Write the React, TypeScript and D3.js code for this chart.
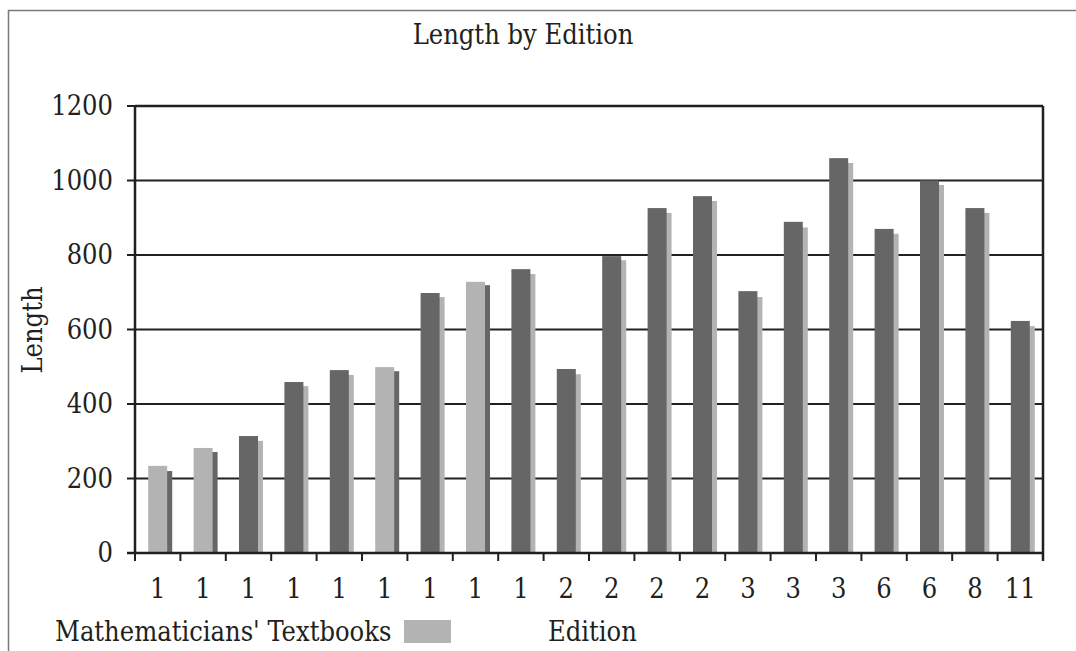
import React from "react";
import * as d3 from "d3";

const categories = ["1","1","1","1","1","1","1","1","1","2","2","2","2","3","3","3","6","6","8","11"];
const frontValues = [234,282,314,459,491,499,698,728,762,494,797,926,958,703,889,1060,870,1000,926,623];
const backValues = [220,271,301,448,478,488,687,719,749,480,786,913,945,687,874,1047,857,988,913,609];
const frontIsLight = [true,true,false,false,false,true,false,true,false,false,false,false,false,false,false,false,false,false,false,false];
const yTicks = [0,200,400,600,800,1000,1200];

const W = 1076, H = 651;
const left = 135, right = 1043, top = 106, bottom = 553;
const DARK = "#666666", LIGHT = "#b3b3b3", INK = "#231f20";
const FONT = "'DejaVu Serif', serif";
const FS = 27;

export default function App() {
  const x = d3.scaleBand<number>().domain(d3.range(categories.length)).range([left, right]).paddingInner(0).paddingOuter(0);
  const y = d3.scaleLinear().domain([0, 1200]).range([bottom, top]);
  const bw = 19;
  const off = 5;
  const tp = { fontFamily: FONT, fontSize: FS, fontStretch: "condensed", fill: INK } as any;
  return (
    <svg width={W} height={H} style={{ position: "absolute", left: 0, top: 0 }}>
      <rect x={0} y={0} width={W} height={H} fill="#fff" />
      <path d={`M8.5,${H + 5} V10.5 H${W + 5}`} fill="none" stroke="#7a7a7a" strokeWidth={1.5} />
      <text x={523} y={44} textAnchor="middle" {...tp}>Length by Edition</text>
      {yTicks.map(t => (
        <g key={t}>
          <line x1={left - 8} x2={right} y1={y(t)} y2={y(t)} stroke={INK} strokeWidth={2} />
          <text x={113} y={y(t) + 9} textAnchor="end" {...tp}>{t}</text>
        </g>
      ))}
      {categories.map((c, i) => {
        const cx = x(i)! + x.bandwidth() / 2;
        const fl = frontIsLight[i];
        return (
          <g key={i}>
            <rect x={cx - bw / 2 + off} y={y(backValues[i])} width={bw} height={y(0) - y(backValues[i])} fill={fl ? DARK : LIGHT} />
            <rect x={cx - bw / 2} y={y(frontValues[i])} width={bw} height={y(0) - y(frontValues[i])} fill={fl ? LIGHT : DARK} />
            <text x={cx} y={598} textAnchor="middle" {...tp}>{c}</text>
          </g>
        );
      })}
      {d3.range(categories.length + 1).map(i => {
        const xx = left + i * x.step();
        return <line key={i} x1={xx} x2={xx} y1={bottom} y2={bottom + 8} stroke={INK} strokeWidth={2} />;
      })}
      <line x1={left} x2={left} y1={top} y2={bottom} stroke={INK} strokeWidth={2.5} />
      <line x1={right} x2={right} y1={top} y2={bottom + 8} stroke={INK} strokeWidth={2.5} />
      <line x1={left} x2={right} y1={top} y2={top} stroke={INK} strokeWidth={2.5} />
      <line x1={left - 8} x2={right} y1={bottom} y2={bottom} stroke={INK} strokeWidth={2.5} />
      <text transform={`translate(42,330) rotate(-90)`} textAnchor="middle" {...tp}>Length</text>
      <text x={55} y={641} {...tp}>Mathematicians' Textbooks</text>
      <rect x={404} y={620} width={47} height={23} fill={LIGHT} />
      <text x={548} y={641} {...tp}>Edition</text>
    </svg>
  );
}
